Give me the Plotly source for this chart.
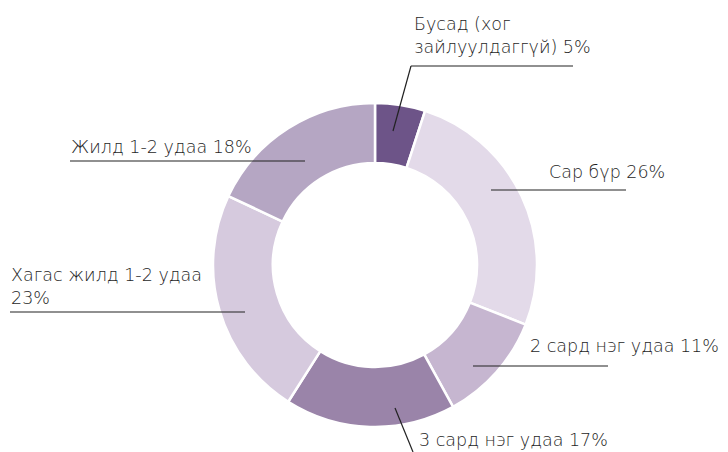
import plotly.graph_objects as go

W, H = 728, 452
OFF = 8  # page body margin
FW, FH = W - OFF, H - OFF

labels = ["Бусад (хог зайлуулдаггүй)", "Сар бүр", "2 сард нэг удаа",
          "3 сард нэг удаа", "Хагас жилд 1-2 удаа", "Жилд 1-2 удаа"]
values = [5, 26, 11, 17, 23, 18]
colors = ["#6d5488", "#e3dae9", "#c6b6d0", "#9a84a9", "#d6cade", "#b5a6c3"]
label_texts = ["Бусад (хог<br>зайлуулдаггүй) 5%", "Сар бүр 26%", "2 сард нэг удаа 11%",
               "3 сард нэг удаа 17%", "Хагас жилд 1-2 удаа<br>23%", "Жилд 1-2 удаа 18%"]

# label layout in page pixels: text anchor (x, y center) and leader polyline points
label_pos = [(412, 35), (547, 172), (528, 346), (417, 440), (9, 286), (69, 147)]
leaders = [
    [(393, 131), (411, 66), (573, 66)],
    [(491, 190), (626, 190)],
    [(473, 366), (608, 366)],
    [(395, 408), (413, 452)],
    [(245, 312), (10, 312)],
    [(305, 161), (70, 161)],
]

def px(x, y):
    return (x - OFF) / FW, 1 - (y - OFF) / FH

cx, cy, R = 375, 265, 162
x0d, y1d = px(cx - R, cy - R)
x1d, y0d = px(cx + R, cy + R)

fig = go.Figure(go.Pie(
    labels=labels, values=values, hole=0.63, sort=False, direction="clockwise",
    rotation=0, textinfo="none", hoverinfo="label+percent",
    marker=dict(colors=colors, line=dict(color="white", width=2.5)),
    domain=dict(x=[x0d, x1d], y=[y0d, y1d]),
    showlegend=False,
))

font = dict(family="DejaVu Sans, Noto Sans, sans-serif", size=17.5, color="#1e1e1e", weight=300)
for t, (x, y) in zip(label_texts, label_pos):
    ax, ay = px(x, y)
    fig.add_annotation(x=ax, y=ay, xref="paper", yref="paper", text=t, showarrow=False,
                       xanchor="left", yanchor="middle", align="left", font=font)

for pts in leaders:
    for (xa, ya), (xb, yb) in zip(pts[:-1], pts[1:]):
        a0, b0 = px(xa, ya)
        a1, b1 = px(xb, yb)
        fig.add_shape(type="line", xref="paper", yref="paper", x0=a0, y0=b0, x1=a1, y1=b1,
                      line=dict(color="#222222", width=1.2))

fig.update_layout(width=FW, height=FH, margin=dict(l=0, r=0, t=0, b=0),
                  paper_bgcolor="white", plot_bgcolor="white")
fig.write_html("out.html")
